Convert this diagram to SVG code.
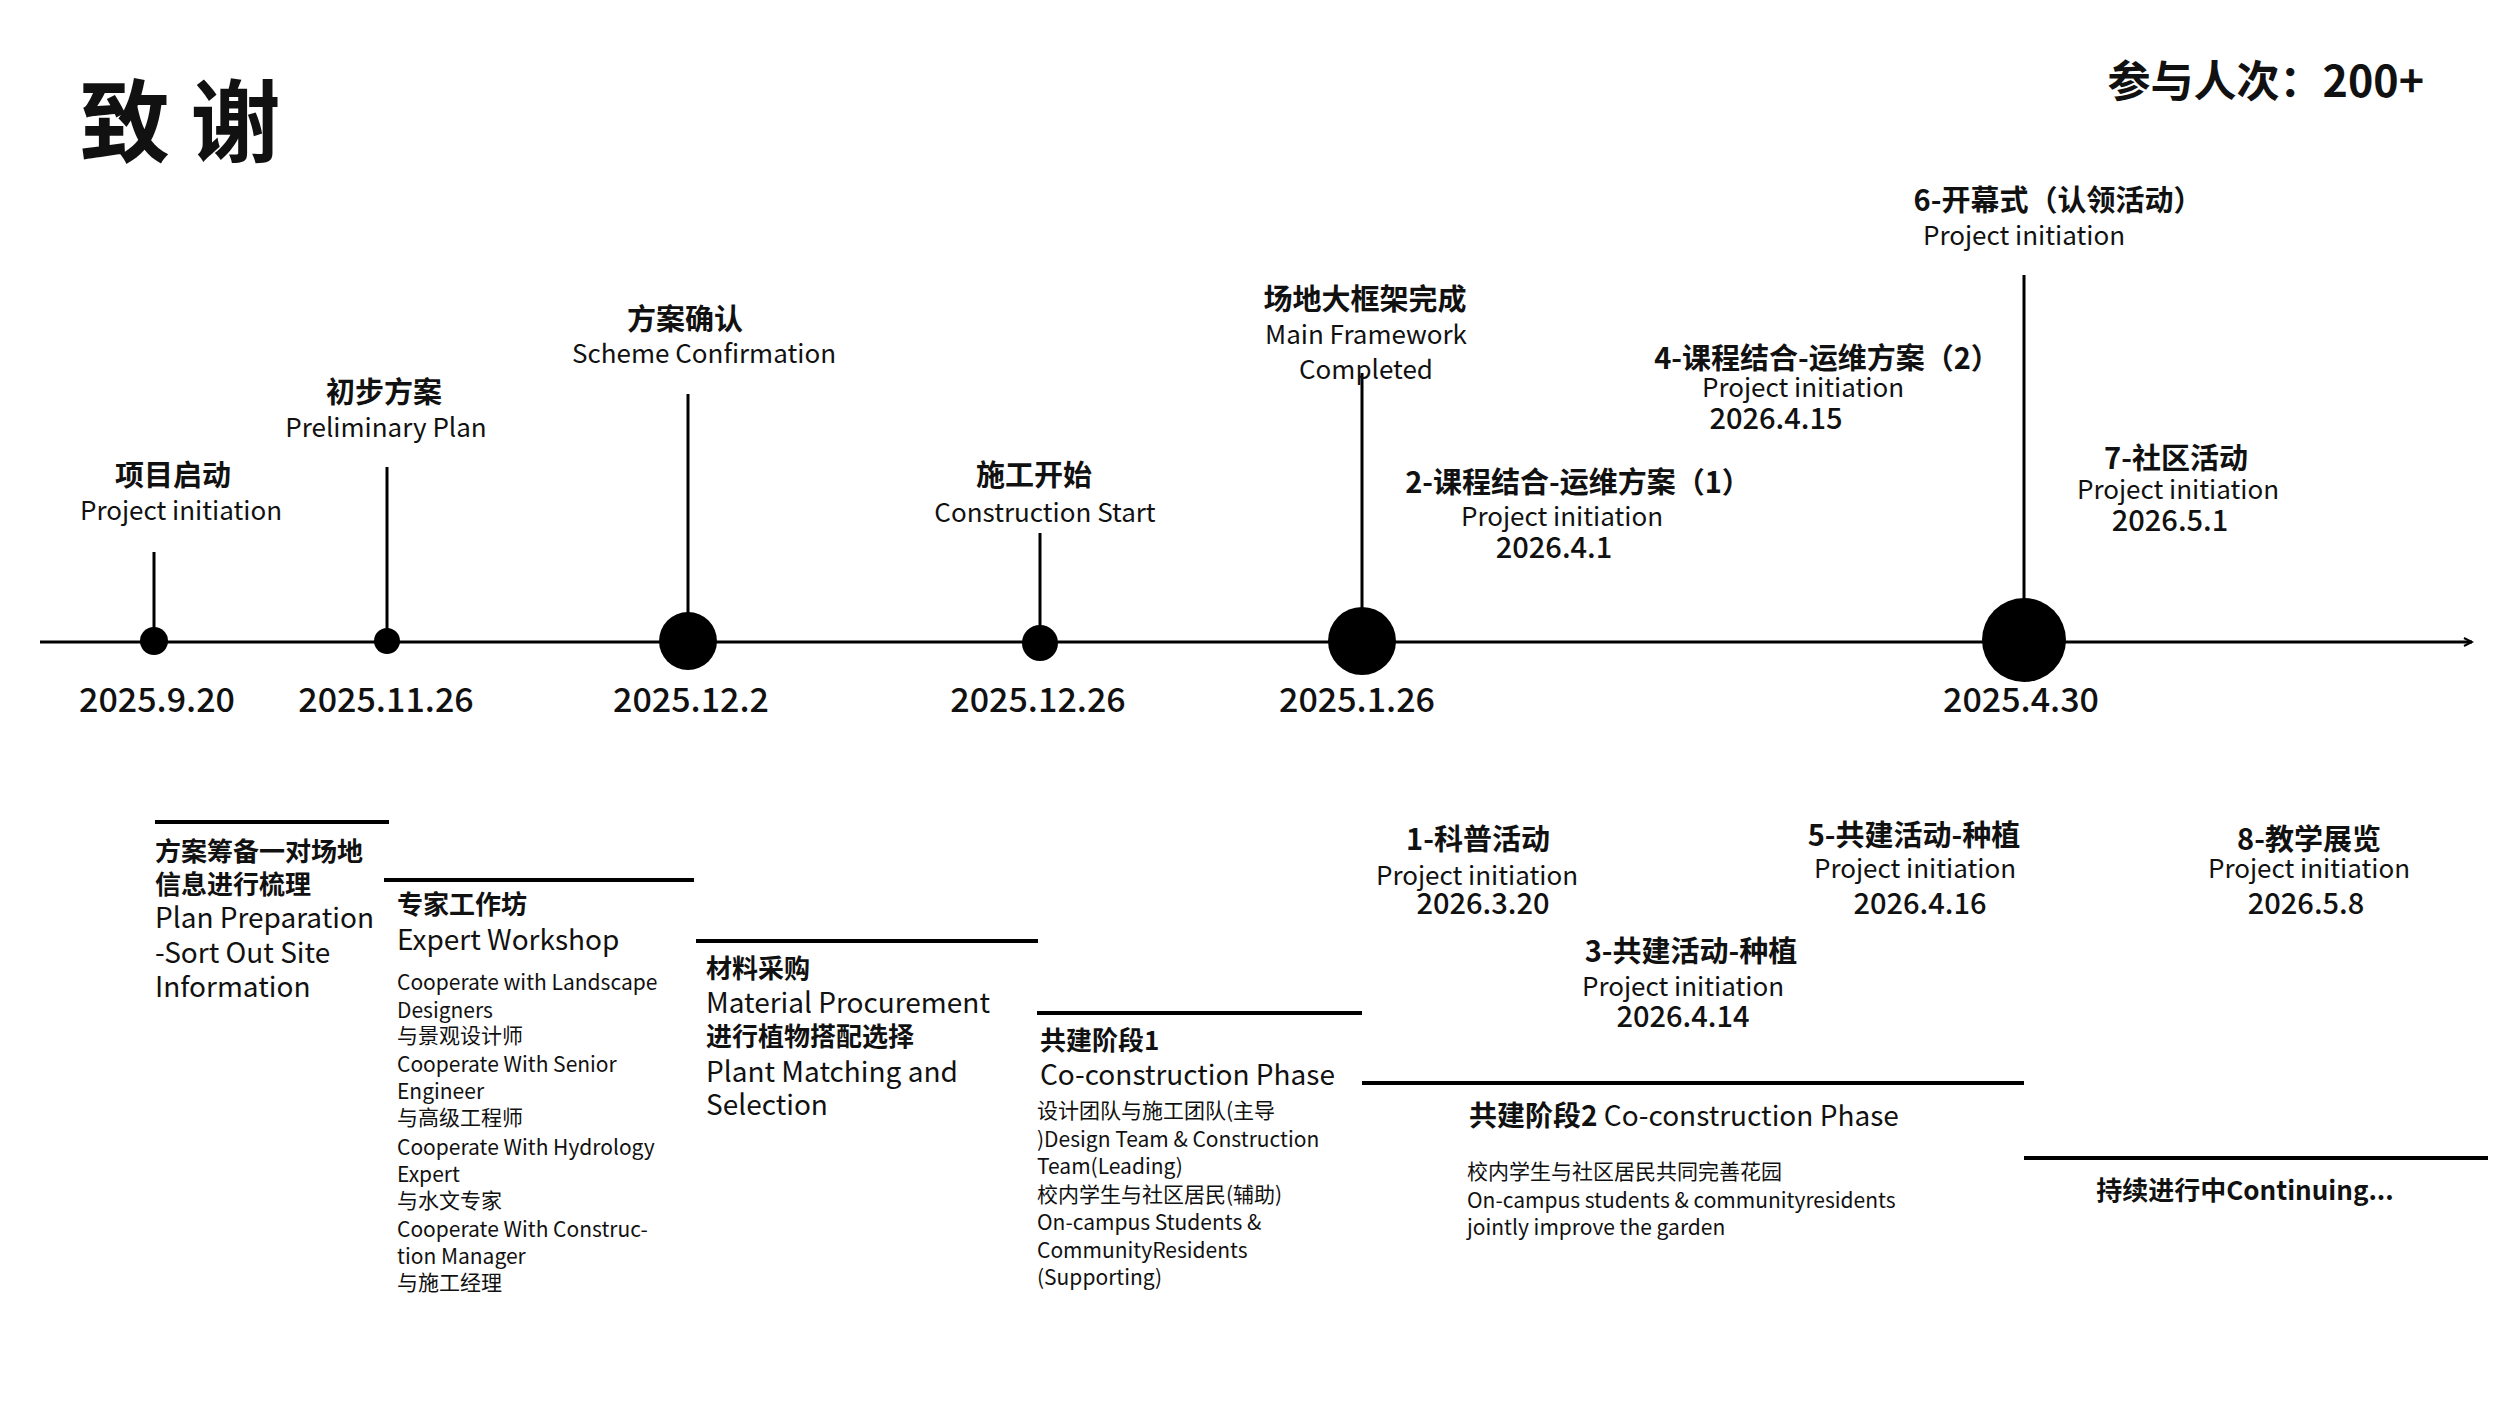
<svg xmlns="http://www.w3.org/2000/svg" width="2500" height="1406" viewBox="0 0 2500 1406">
<style>
text{font-family:"Noto Sans CJK SC","Noto Sans",sans-serif;fill:#111}
.h{font-size:29px;font-weight:bold}
.e{font-size:26px}
.d{font-size:29px;font-weight:500}
.dt{font-size:34px;font-weight:500}
.s{font-size:21px}
.m{font-size:28px}
.c{text-anchor:middle}
.ln{stroke:#000;stroke-width:3}
</style>
<defs><marker id="ar" markerWidth="12" markerHeight="12" refX="10" refY="6" orient="auto" markerUnits="userSpaceOnUse"><path d="M2,2 L10,6 L2,10" fill="none" stroke="#000" stroke-width="2"/></marker></defs>
<rect width="2500" height="1406" fill="#fff"/>
<text x="80" y="155" style="font-size:90px;font-weight:bold">致 谢</text>
<text x="2424" y="97" text-anchor="end" style="font-size:43px;font-weight:bold">参与人次：200+</text>
<g id="connectors">
<line x1="40" y1="642" x2="2472" y2="642" stroke="#000" stroke-width="3" marker-end="url(#ar)"/>
<line class="ln" x1="154" y1="552" x2="154" y2="642"/>
<line class="ln" x1="387" y1="467" x2="387" y2="642"/>
<line class="ln" x1="688" y1="394" x2="688" y2="642"/>
<line class="ln" x1="1040" y1="533" x2="1040" y2="642"/>
<line class="ln" x1="1362" y1="373" x2="1362" y2="642"/>
<line class="ln" x1="2024" y1="275" x2="2024" y2="642"/>
<g stroke="#000" stroke-width="4">
<line x1="155" y1="822" x2="389" y2="822"/>
<line x1="384" y1="880" x2="694" y2="880"/>
<line x1="696" y1="941" x2="1038" y2="941"/>
<line x1="1037" y1="1013" x2="1362" y2="1013"/>
<line x1="1362" y1="1083" x2="2024" y2="1083"/>
<line x1="2024" y1="1158" x2="2488" y2="1158"/>
</g>
</g>
<g id="n1"><circle cx="154" cy="641" r="14"/><text class="h c" x="173" y="486">项目启动</text><text class="e c" x="181" y="520">Project initiation</text><text class="dt c" x="157" y="712">2025.9.20</text></g>
<g id="n2"><circle cx="387" cy="641" r="13"/><text class="h c" x="384" y="403">初步方案</text><text class="e c" x="386" y="437">Preliminary Plan</text><text class="dt c" x="386" y="712">2025.11.26</text></g>
<g id="n3"><circle cx="688" cy="641" r="29"/><text class="h c" x="685" y="330">方案确认</text><text class="e c" x="704" y="363">Scheme Confirmation</text><text class="dt c" x="691" y="712">2025.12.2</text></g>
<g id="n4"><circle cx="1040" cy="643" r="18"/><text class="h c" x="1034" y="486">施工开始</text><text class="e c" x="1045" y="522">Construction Start</text><text class="dt c" x="1038" y="712">2025.12.26</text></g>
<g id="n5"><circle cx="1362" cy="641" r="34"/><text class="h c" x="1365" y="310">场地大框架完成</text><text class="e c" x="1366" y="344">Main Framework</text><text class="e c" x="1366" y="379">Completed</text><text class="dt c" x="1357" y="712">2025.1.26</text></g>
<g id="n6"><circle cx="2024" cy="640" r="42"/><text class="h c" x="2058" y="211">6-开幕式（认领活动）</text><text class="e c" x="2024" y="245">Project initiation</text><text class="dt c" x="2021" y="712">2025.4.30</text></g>
<g id="e2"><text class="h c" x="1578" y="493">2-课程结合-运维方案（1）</text><text class="e c" x="1562" y="526">Project initiation</text><text class="d c" x="1554" y="558">2026.4.1</text></g>
<g id="e4"><text class="h c" x="1827" y="369">4-课程结合-运维方案（2）</text><text class="e c" x="1803" y="397">Project initiation</text><text class="d c" x="1776" y="429">2026.4.15</text></g>
<g id="e7"><text class="h c" x="2176" y="469">7-社区活动</text><text class="e c" x="2178" y="499">Project initiation</text><text class="d c" x="2170" y="531">2026.5.1</text></g>
<g id="e1"><text class="h c" x="1478" y="850">1-科普活动</text><text class="e c" x="1477" y="885">Project initiation</text><text class="d c" x="1483" y="914">2026.3.20</text></g>
<g id="e5"><text class="h c" x="1914" y="846">5-共建活动-种植</text><text class="e c" x="1915" y="878">Project initiation</text><text class="d c" x="1920" y="914">2026.4.16</text></g>
<g id="e8"><text class="h c" x="2309" y="850">8-教学展览</text><text class="e c" x="2309" y="878">Project initiation</text><text class="d c" x="2306" y="914">2026.5.8</text></g>
<g id="e3"><text class="h c" x="1691" y="962">3-共建活动-种植</text><text class="e c" x="1683" y="996">Project initiation</text><text class="d c" x="1683" y="1027">2026.4.14</text></g>
<g id="p1"><text class="h" x="155" y="861" style="font-size:26px">方案筹备一对场地</text><text class="h" x="155" y="894" style="font-size:26px">信息进行梳理</text><text class="m" x="155" y="928">Plan Preparation</text><text class="m" x="155" y="963">-Sort Out Site</text><text class="m" x="155" y="997">Information</text></g>
<g id="p2"><text class="h" x="397" y="914" style="font-size:26px">专家工作坊</text><text class="m" x="397" y="950">Expert Workshop</text>
<text class="s" x="397" y="990">Cooperate with Landscape</text><text class="s" x="397" y="1018">Designers</text><text class="s" x="397" y="1043">与景观设计师</text><text class="s" x="397" y="1072">Cooperate With Senior</text><text class="s" x="397" y="1099">Engineer</text><text class="s" x="397" y="1125">与高级工程师</text><text class="s" x="397" y="1155">Cooperate With Hydrology</text><text class="s" x="397" y="1182">Expert</text><text class="s" x="397" y="1208">与水文专家</text><text class="s" x="397" y="1237">Cooperate With Construc-</text><text class="s" x="397" y="1264">tion Manager</text><text class="s" x="397" y="1290">与施工经理</text></g>
<g id="p3"><text class="h" x="706" y="978" style="font-size:26px">材料采购</text><text class="m" x="706" y="1013">Material Procurement</text><text class="h" x="706" y="1046" style="font-size:26px">进行植物搭配选择</text><text class="m" x="706" y="1082">Plant Matching and</text><text class="m" x="706" y="1115">Selection</text></g>
<g id="p4"><text class="h" x="1040" y="1050" style="font-size:26px">共建阶段1</text><text class="m" x="1040" y="1085">Co-construction Phase</text>
<text class="s" x="1037" y="1118">设计团队与施工团队(主导</text><text class="s" x="1037" y="1147">)Design Team &amp; Construction</text><text class="s" x="1037" y="1174">Team(Leading)</text><text class="s" x="1037" y="1202">校内学生与社区居民(辅助)</text><text class="s" x="1037" y="1230">On-campus Students &amp;</text><text class="s" x="1037" y="1258">CommunityResidents</text><text class="s" x="1037" y="1285">(Supporting)</text></g>
<g id="p5"><text class="m" x="1469" y="1126"><tspan font-weight="bold">共建阶段2</tspan> Co-construction Phase</text><text class="s" x="1467" y="1179">校内学生与社区居民共同完善花园</text><text class="s" x="1467" y="1208">On-campus students &amp; communityresidents</text><text class="s" x="1467" y="1235">jointly improve the garden</text></g>
<g id="p6"><text class="h c" x="2245" y="1200" style="font-size:26px">持续进行中Continuing...</text></g>
</svg>
